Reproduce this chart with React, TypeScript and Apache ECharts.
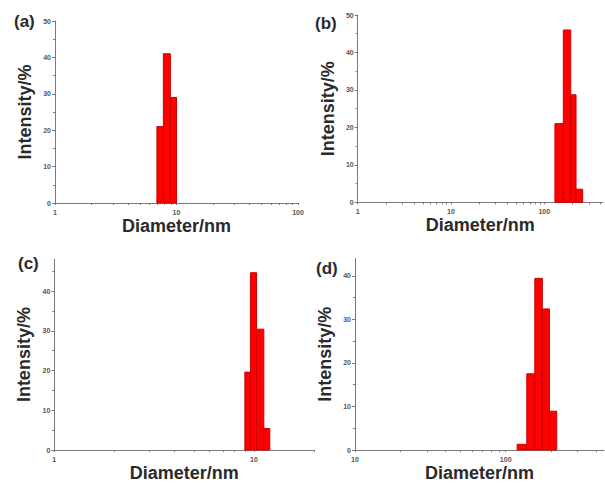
import React, { useEffect, useRef } from "react";
import * as echarts from "echarts";

// Bin edges (nm) and intensities (%) for each panel
const edgesA = [6.9, 7.8, 8.9, 10.0];
const heightsA = [21, 41, 29];
const edgesB = [130, 160, 192, 219, 258];
const heightsB = [21, 46, 28.7, 3.5];
const edgesC = [9.0, 9.6, 10.3, 11.2, 12.0];
const heightsC = [19.6, 44.6, 30.4, 5.4];
const edgesD = [119, 138, 156, 175, 195, 218];
const heightsD = [1.3, 17.5, 39.4, 32.4, 8.9];

const panelLabels = ["(a)", "(b)", "(c)", "(d)"];
const xMajorTicks = [1, 10, 100, 1000];
const yTicksAB = [0, 10, 20, 30, 40, 50];
const yTicksCD = [0, 10, 20, 30, 40];

function bins(edges: number[], heights: number[]) {
  return heights.map((h, i) => [edges[i], edges[i + 1], h]);
}

function minorList(min: number, max: number) {
  const out: number[] = [];
  for (let d = 1; d <= 1000; d *= 10) {
    for (let k = 1; k <= 9; k++) {
      const v = k * d;
      if (v >= min && v <= max) out.push(v);
    }
  }
  return out;
}

const axisColor = "#7a7a7a";
const labelColor = "#555";
const font = "Liberation Sans, Arial, sans-serif";

export default function App() {
  const ref = useRef<HTMLDivElement>(null);
  useEffect(() => {
    document.body.style.margin = "0";
    const chart = echarts.init(ref.current!, null, { renderer: "svg" });

    const grids = [
      { left: 55, top: 21, width: 243, height: 182 },
      { left: 357.7, top: 15, width: 245.3, height: 187.3 },
      { left: 54.3, top: 259.2, width: 259.8, height: 191.5 },
      { left: 355, top: 258.4, width: 249, height: 192.3 },
    ];
    const xRanges = [
      [1, 100],
      [1, 426],
      [1, 20],
      [10, 449],
    ];
    const yMax = [50, 50, 48, 44];
    const yTicks = [yTicksAB, yTicksAB, yTicksCD, yTicksCD];
    const data = [
      bins(edgesA, heightsA),
      bins(edgesB, heightsB),
      bins(edgesC, heightsC),
      bins(edgesD, heightsD),
    ];
    const labelPos = [
      { x: 14, y: 13 },
      { x: 315, y: 15 },
      { x: 18, y: 255 },
      { x: 316, y: 260 },
    ];

    const xAxis = grids.map((_, i) => ({
      type: "log",
      logBase: 10,
      gridIndex: i,
      min: xRanges[i][0],
      max: xRanges[i][1],
      name: "Diameter/nm",
      nameLocation: "middle",
      nameGap: 14,
      nameTextStyle: { fontFamily: font, fontWeight: "bold", fontSize: 18, color: "#2a2a2a" },
      axisLine: { show: true, onZero: false, lineStyle: { color: axisColor, width: 1 } },
      axisTick: {
        show: true,
        length: 2,
        customValues: minorList(xRanges[i][0], xRanges[i][1]),
        lineStyle: { color: axisColor },
      },
      axisLabel: {
        show: true,
        customValues: xMajorTicks.filter((v) => v >= xRanges[i][0] && v <= xRanges[i][1]),
        fontSize: 7,
        fontWeight: "bold",
        color: labelColor,
        margin: 6,
        fontFamily: font,
      },
      splitLine: { show: false },
    }));

    const yAxis = grids.map((_, i) => ({
      type: "value",
      gridIndex: i,
      min: 0,
      max: yMax[i],
      interval: 10,
      name: "Intensity/%",
      nameLocation: "middle",
      nameGap: 21,
      nameTextStyle: { fontFamily: font, fontWeight: "bold", fontSize: 18, color: "#2a2a2a" },
      axisLine: { show: true, lineStyle: { color: axisColor, width: 1 } },
      axisTick: {
        show: true,
        length: 3,
        customValues: yTicks[i],
        lineStyle: { color: axisColor },
      },
      minorTick: { show: true, splitNumber: 2, length: 2, lineStyle: { color: axisColor } },
      axisLabel: {
        show: true,
        customValues: yTicks[i],
        fontSize: 7,
        fontWeight: "bold",
        color: labelColor,
        margin: 4,
        fontFamily: font,
      },
      splitLine: { show: false },
    }));

    const series = grids.map((_, i) => ({
      type: "custom",
      xAxisIndex: i,
      yAxisIndex: i,
      encode: { x: [0, 1], y: 2 },
      data: data[i],
      renderItem: (params: any, api: any) => {
        const p0 = api.coord([api.value(0), 0]);
        const p1 = api.coord([api.value(1), api.value(2)]);
        return {
          type: "rect",
          shape: { x: p0[0], y: p1[1], width: p1[0] - p0[0], height: p0[1] - p1[1] },
          style: { fill: "#ff0000", stroke: "#cc0000", lineWidth: 1 },
        };
      },
    }));

    chart.setOption({
      animation: false,
      backgroundColor: "#fff",
      grid: grids,
      xAxis,
      yAxis,
      series,
      graphic: panelLabels.map((t, i) => ({
        type: "text",
        x: labelPos[i].x,
        y: labelPos[i].y,
        style: { text: t, fontSize: 17, fontWeight: "bold", fontFamily: font, fill: "#2a2a2a" },
      })),
    } as any);

    return () => chart.dispose();
  }, []);
  return <div ref={ref} style={{ width: 605, height: 483 }} />;
}
